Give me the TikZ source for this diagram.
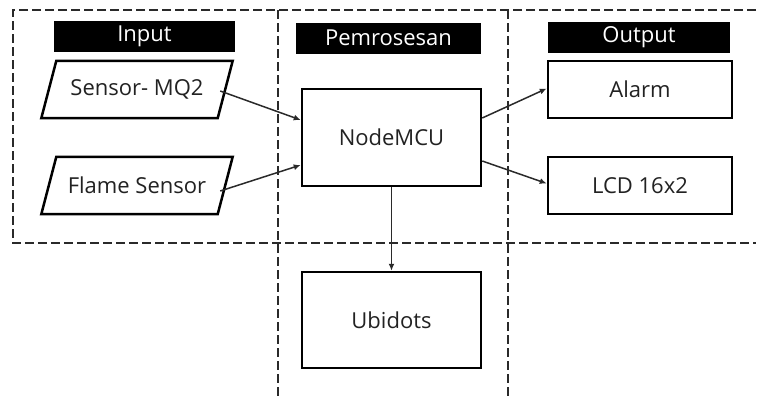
\documentclass[tikz,border=0pt]{standalone}
\usepackage{fontspec}
\setmainfont{Open Sans}
\usetikzlibrary{arrows.meta}
\definecolor{txt}{HTML}{222222}
\definecolor{ln}{HTML}{2a2a2a}
\tikzset{
  x=1pt, y=-1pt,
  every node/.style={font=\fontsize{22}{25}\selectfont, text=txt, inner sep=0pt},
  header/.style={fill=black, text=white, minimum width=#1, minimum height=31},
  header/.default=182,
  box/.style={draw=black, line width=2.5pt, fill=white, minimum width=181, minimum height=#1},
  box/.default=57,
  para/.style={minimum width=176, minimum height=57},
  paraline/.style={draw=black, line width=2.5pt, fill=white, line join=miter},
  region/.style={draw=ln, line width=1.4pt, dash pattern=on 9pt off 4pt},
  conn/.style={draw=ln, line width=1.5pt, -{Latex[length=7pt,width=6pt]}},
}
\begin{document}
\begin{tikzpicture}
\useasboundingbox (0,0) rectangle (758,399);
% region borders
\coordinate (tl) at (13,10);
\coordinate (tr) at (756,10);
\coordinate (bl) at (13,243);
\coordinate (br) at (756,243);
\coordinate (v1t) at (278,10);
\coordinate (v1b) at (278,400);
\coordinate (v2t) at (508,10);
\coordinate (v2b) at (508,400);
\draw[region] (tr) -- (tl) -- (bl) -- (br);
\draw[region] (v1t) -- (v1b);
\draw[region] (v2t) -- (v2b);

% headers
\node[header=181] (hin) at (144.5,36) {Input};
\node[header=185] (hpro) at (388.5,38) {Pemrosesan};
\node[header=182] (hout) at (639,37.5) {Output};

% input parallelograms
\node[para] (mq2) at (137,89.5) {};
\draw[paraline] ([xshift=7.5]mq2.north west) -- ([xshift=7.5]mq2.north east)
  -- ([xshift=-7.5]mq2.south east) -- ([xshift=-7.5]mq2.south west) -- cycle;
\node at (mq2) {Sensor- MQ2};
\node[para] (flame) at (137,185.5) {};
\draw[paraline] ([xshift=7.5]flame.north west) -- ([xshift=7.5]flame.north east)
  -- ([xshift=-7.5]flame.south east) -- ([xshift=-7.5]flame.south west) -- cycle;
\node at (flame) {Flame Sensor};

% processing
\node[box=97, minimum width=179] (mcu) at (391.5,137.5) {NodeMCU};
\node[box=96, minimum width=179] (ubi) at (391.5,320) {Ubidots};

% outputs
\node[box, minimum width=184] (alarm) at (640,89.5) {Alarm};
\node[box, minimum width=184] (lcd) at (640,185.5) {LCD 16x2};

% connectors
\draw[conn] ([xshift=-5,yshift=-1.5]mq2.east) -- ([yshift=17.5]mcu.west);
\draw[conn] ([xshift=-5,yshift=-5.5]flame.east) -- ([yshift=-27.5]mcu.west);
\draw[conn] ([yshift=19.5]mcu.east) -- ([yshift=1]alarm.west);
\draw[conn] ([yshift=-23.5]mcu.east) -- ([yshift=2]lcd.west);
\draw[conn] (mcu.south) -- (ubi.north);
\end{tikzpicture}
\end{document}
